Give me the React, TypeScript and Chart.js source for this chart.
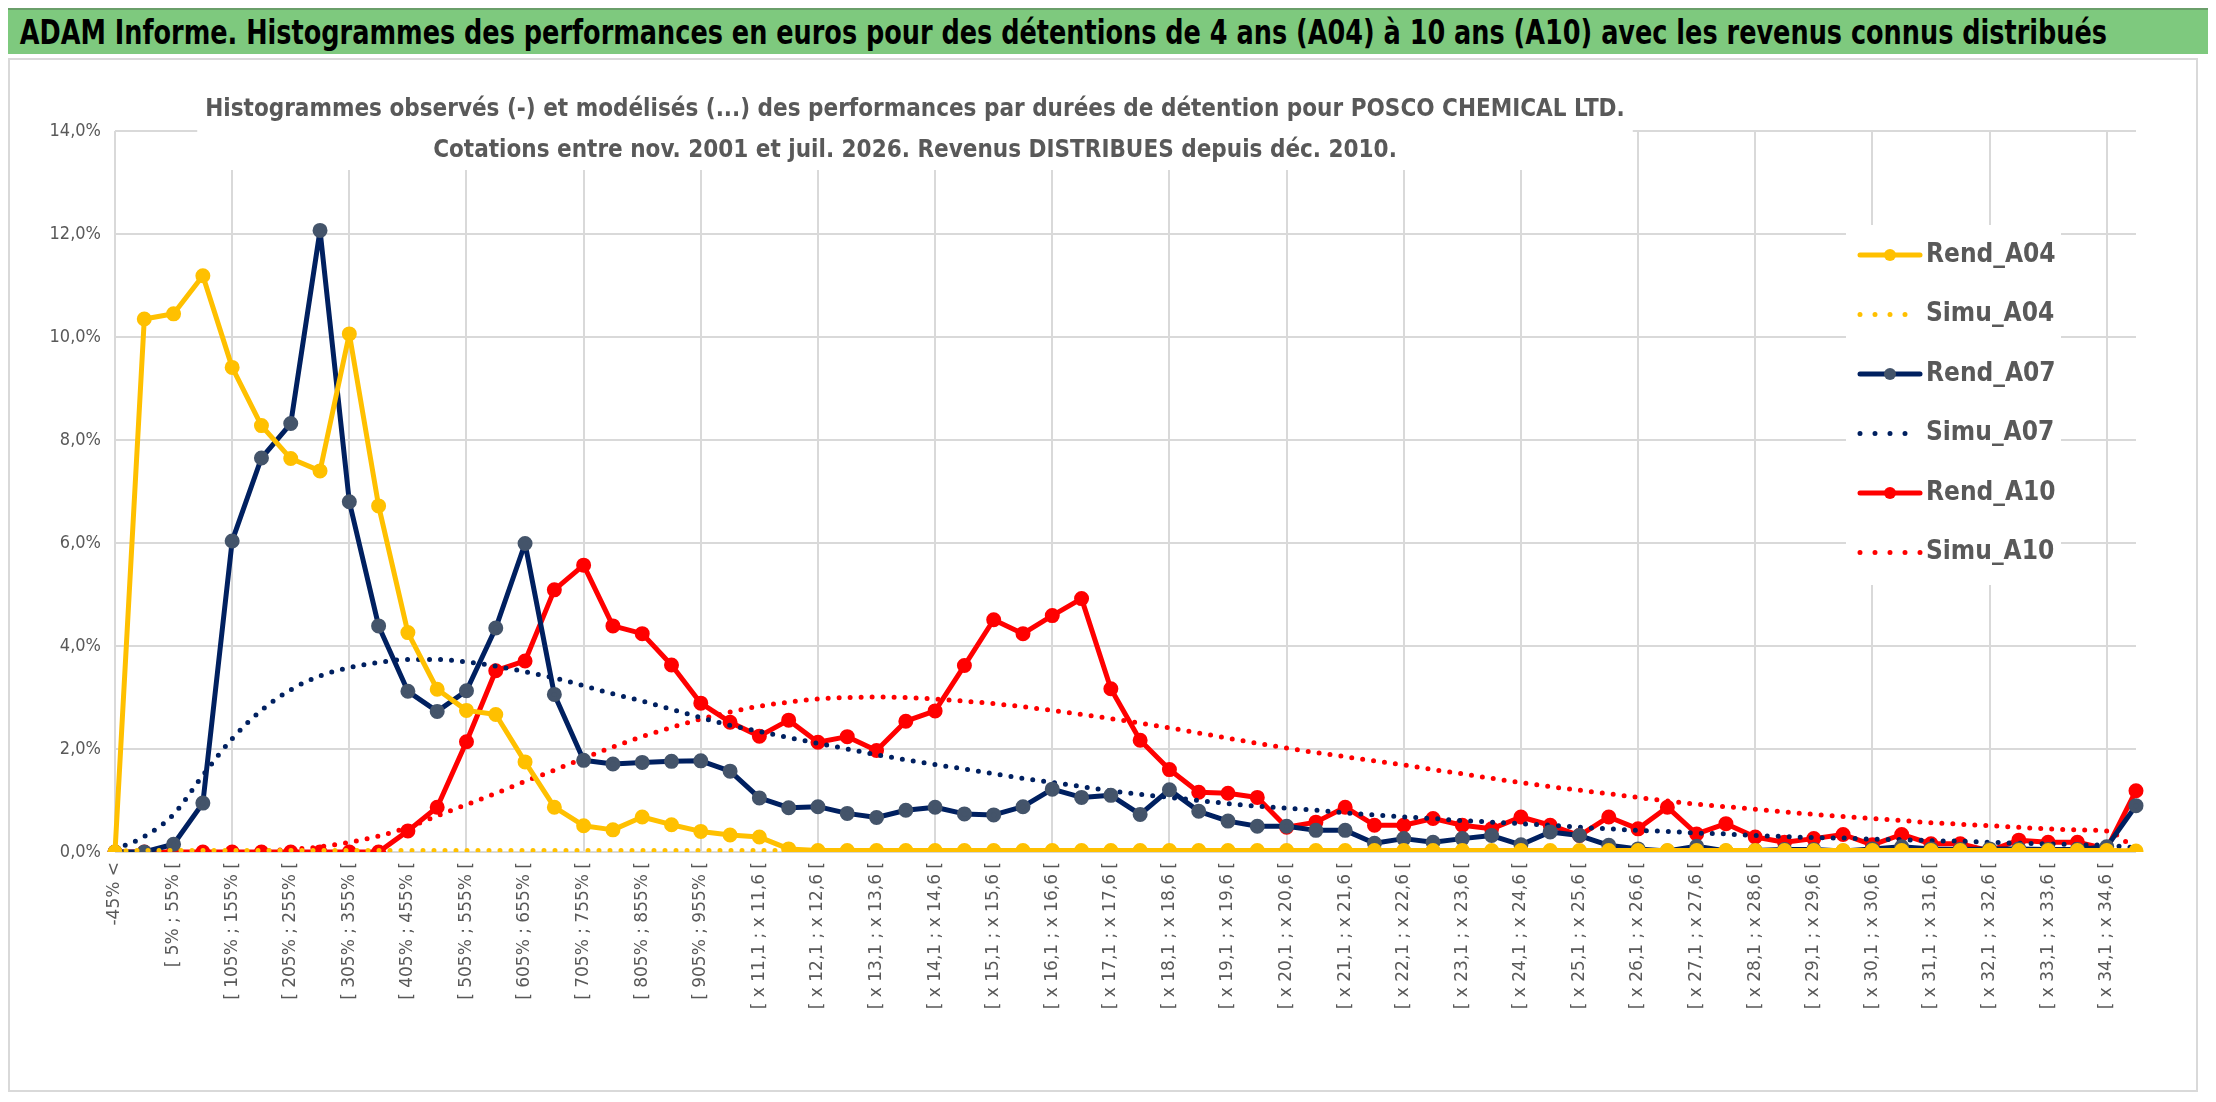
import React, { useEffect, useRef } from "react";
import { Chart, registerables } from "chart.js";
Chart.register(...registerables);

const fmt = (v: number) => v.toFixed(1).replace(".", ",");
const categories: string[] = (() => {
  const out: string[] = ["-45% <", "[ -45% ; 5% ["];
  for (let a = 5; a <= 905; a += 50) out.push(`[ ${a}% ; ${a + 50}% [`);
  out.push("[ 955% ; x 11,1 [");
  for (let k = 0; k <= 46; k++) {
    const m = 11.1 + 0.5 * k;
    out.push(`[ x ${fmt(m)} ; x ${fmt(m + 0.5)} [`);
  }
  out.push("> x 34,6");
  return out;
})();

const rendA04 = [0, 10.35, 10.45, 11.19, 9.41, 8.28, 7.64, 7.4, 10.06, 6.72, 4.26, 3.16, 2.75, 2.67, 1.75, 0.87, 0.51, 0.43, 0.68, 0.53, 0.4, 0.33, 0.29, 0.06,
  0.03, 0.03, 0.03, 0.03, 0.03, 0.03, 0.03, 0.03, 0.03, 0.03, 0.03, 0.03, 0.03, 0.03, 0.03, 0.03, 0.03, 0.03, 0.03, 0.03, 0.03, 0.03, 0.03, 0.03, 0.03, 0.03,
  0.03, 0.03, 0.03, 0.03, 0.03, 0.03, 0.03, 0.03, 0.03, 0.03, 0.03, 0.03, 0.03, 0.03, 0.03, 0.03, 0.03, 0.03, 0.03, 0.02];
const simuA04 = [0.02, 0.03, 0.03, 0.03, 0.03, 0.03, 0.03, 0.03, 0.03, 0.03, 0.03, 0.03, 0.03, 0.03, 0.03, 0.03, 0.03, 0.03, 0.03, 0.03, 0.03, 0.03, 0.03, 0.03,
  0.03, 0.03, 0.03, 0.03, 0.03, 0.03, 0.03, 0.03, 0.03, 0.03, 0.03, 0.03, 0.03, 0.03, 0.03, 0.03, 0.03, 0.03, 0.03, 0.03, 0.03, 0.03, 0.03, 0.03, 0.03, 0.03,
  0.03, 0.03, 0.03, 0.03, 0.03, 0.03, 0.03, 0.03, 0.03, 0.03, 0.03, 0.03, 0.03, 0.03, 0.03, 0.03, 0.03, 0.03, 0.03, 0.03];
const rendA07 = [0, 0, 0.15, 0.95, 6.04, 7.65, 8.32, 12.07, 6.8, 4.39, 3.12, 2.73, 3.13, 4.35, 5.99, 3.06, 1.78, 1.71, 1.74, 1.76, 1.77, 1.57, 1.05, 0.86,
  0.88, 0.75, 0.67, 0.81, 0.87, 0.74, 0.72, 0.88, 1.22, 1.06, 1.1, 0.73, 1.21, 0.79, 0.6, 0.5, 0.5, 0.42, 0.42, 0.17, 0.26, 0.19, 0.26, 0.32, 0.14, 0.39,
  0.32, 0.13, 0.06, 0.02, 0.11, 0.02, 0.03, 0.05, 0.05, 0.02, 0.06, 0.1, 0.06, 0.05, 0.06, 0.06, 0.05, 0.05, 0.1, 0.9];
const simuA07 = [0.05, 0.3, 0.73, 1.49, 2.2, 2.75, 3.15, 3.42, 3.58, 3.68, 3.74, 3.74, 3.69, 3.61, 3.5, 3.38, 3.23, 3.07, 2.93, 2.77, 2.61, 2.46, 2.34, 2.22,
  2.11, 2.0, 1.89, 1.79, 1.7, 1.61, 1.52, 1.43, 1.35, 1.27, 1.19, 1.12, 1.06, 1.0, 0.94, 0.89, 0.85, 0.81, 0.76, 0.72, 0.68, 0.65, 0.61, 0.58, 0.55, 0.52,
  0.48, 0.45, 0.42, 0.4, 0.37, 0.35, 0.32, 0.3, 0.28, 0.27, 0.25, 0.24, 0.22, 0.21, 0.19, 0.17, 0.16, 0.14, 0.13, 0.08];
const rendA10 = [0, 0, 0, 0, 0, 0, 0, 0, 0, 0, 0.41, 0.87, 2.14, 3.52, 3.71, 5.09, 5.57, 4.39, 4.24, 3.63, 2.89, 2.52, 2.25, 2.56,
  2.13, 2.24, 1.97, 2.54, 2.74, 3.62, 4.51, 4.24, 4.59, 4.92, 3.17, 2.17, 1.6, 1.16, 1.14, 1.06, 0.48, 0.58, 0.87, 0.52, 0.52, 0.65, 0.52, 0.45, 0.68, 0.52,
  0.32, 0.68, 0.45, 0.87, 0.35, 0.55, 0.29, 0.19, 0.26, 0.34, 0.14, 0.34, 0.16, 0.16, 0.02, 0.23, 0.19, 0.19, 0.06, 1.19];
const simuA10 = [0, 0, 0, 0, 0, 0.02, 0.05, 0.1, 0.19, 0.31, 0.48, 0.7, 0.92, 1.14, 1.37, 1.59, 1.82, 2.04, 2.24, 2.42, 2.58, 2.72, 2.83, 2.91,
  2.97, 3.0, 3.01, 3.0, 2.97, 2.93, 2.88, 2.82, 2.75, 2.67, 2.59, 2.5, 2.41, 2.31, 2.21, 2.11, 2.02, 1.93, 1.85, 1.77, 1.69, 1.6, 1.52, 1.43, 1.35, 1.27,
  1.2, 1.13, 1.06, 0.99, 0.93, 0.88, 0.83, 0.78, 0.73, 0.69, 0.65, 0.61, 0.57, 0.54, 0.51, 0.48, 0.45, 0.43, 0.41, 0.05];

const YELLOW = "#FFC000", NAVY = "#002060", NAVYM = "#44546A", RED = "#FF0000";
const NARROW = '"Liberation Sans Narrow", "DejaVu Sans Condensed", "Roboto Condensed", sans-serif';
const GRAY = "#595959";

export default function App() {
  const ref = useRef<HTMLCanvasElement>(null);
  useEffect(() => {
    const rend = (label: string, data: number[], c: string, m: string) => ({
      label, data, borderColor: c, backgroundColor: m, pointBackgroundColor: m, pointBorderColor: m,
      borderWidth: 5, pointRadius: 5, pointHoverRadius: 5, tension: 0, borderJoinStyle: "round" as const,
    });
    const simu = (label: string, data: number[], c: string) => ({
      label, data, borderColor: c, backgroundColor: c, borderWidth: 5, pointRadius: 0,
      borderDash: [0, 11], borderCapStyle: "round" as const, cubicInterpolationMode: "monotone" as const,
    });
    const datasets: any[] = [
      rend("Rend_A04", rendA04, YELLOW, YELLOW),
      simu("Simu_A04", simuA04, YELLOW),
      rend("Rend_A07", rendA07, NAVY, NAVYM),
      simu("Simu_A07", simuA07, NAVY),
      rend("Rend_A10", rendA10, RED, RED),
      simu("Simu_A10", simuA10, RED),
    ];
    const overlay = {
      id: "overlay",
      afterDraw(chart: any) {
        const ctx = chart.ctx as CanvasRenderingContext2D;
        ctx.save();
        ctx.font = `bold 24px ${NARROW}`;
        const l1 = "Histogrammes observés (-) et modélisés (...) des performances par durées de détention pour POSCO CHEMICAL LTD.";
        const l2 = "Cotations entre nov. 2001 et juil. 2026. Revenus DISTRIBUES depuis déc. 2010.";
        const w = ctx.measureText(l1).width;
        const cx = 905;
        ctx.fillStyle = "#fff";
        ctx.fillRect(cx - w / 2 - 8, 30, w + 16, 80);
        ctx.fillStyle = GRAY;
        ctx.textAlign = "center";
        ctx.textBaseline = "middle";
        ctx.fillText(l1, cx, 50);
        ctx.fillText(l2, cx, 91);
        const lx = 1836, ly = 165;
        ctx.fillStyle = "#fff";
        ctx.fillRect(lx, ly, 215, 360);
        ctx.font = `bold 26px ${NARROW}`;
        ctx.textAlign = "left";
        datasets.forEach((d, i) => {
          const y = 195 + i * 59.5;
          ctx.strokeStyle = d.borderColor;
          ctx.lineWidth = 5;
          ctx.lineCap = "round";
          if (d.pointRadius) {
            ctx.setLineDash([]);
            ctx.beginPath(); ctx.moveTo(lx + 14, y); ctx.lineTo(lx + 74, y); ctx.stroke();
            ctx.fillStyle = d.pointBackgroundColor;
            ctx.beginPath(); ctx.arc(lx + 44, y, 6, 0, Math.PI * 2); ctx.fill();
          } else {
            ctx.setLineDash([0, 15]);
            ctx.beginPath(); ctx.moveTo(lx + 14, y); ctx.lineTo(lx + (i === 5 ? 76 : 62), y); ctx.stroke();
          }
          ctx.setLineDash([]);
          ctx.fillStyle = GRAY;
          ctx.fillText(d.label, lx + 80, y);
        });
        ctx.restore();
      },
    };
    const chart = new Chart(ref.current!, {
      type: "line",
      data: { labels: categories, datasets },
      plugins: [overlay],
      options: {
        animation: false,
        responsive: false,
        layout: { padding: { top: 71, right: 60, bottom: 8, left: 0 } },
        plugins: { legend: { display: false }, title: { display: false }, tooltip: { enabled: false } },
        scales: {
          x: {
            offset: false,
            grid: { color: (c: any) => (c.index % 4 === 0 ? "#d9d9d9" : "rgba(0,0,0,0)"), lineWidth: 2, drawTicks: false },
            border: { display: false },
            ticks: {
              autoSkip: false, maxRotation: 90, minRotation: 90, padding: 10,
              color: GRAY, font: { size: 17, family: "DejaVu Sans" },
              callback: (_v: any, i: number) => (i % 2 === 0 ? categories[i] : ""),
            },
            afterFit: (s: any) => { s.height = 230; },
          },
          y: {
            min: 0, max: 14,
            grid: { color: "#d9d9d9", lineWidth: 2, drawTicks: false },
            border: { display: false },
            ticks: { stepSize: 2, color: GRAY, padding: 14, font: { size: 18, family: NARROW }, callback: (v: any) => fmt(Number(v)) + "%" },
            afterFit: (s: any) => { s.width = 105; },
          },
        },
      },
    });
    return () => chart.destroy();
  }, []);
  return (
    <div style={{ position: "relative", width: 2200, height: 1086, background: "#fff", overflow: "hidden" }}>
      <div style={{ position: "absolute", left: 0, top: 0, width: 2200, height: 46, background: "#7ec97e", borderTop: "2px solid #6a9f6a",
        boxSizing: "border-box", overflow: "hidden" }}>
        <div style={{ fontFamily: NARROW, fontWeight: "bold", fontSize: 34, lineHeight: "44px", color: "#000", whiteSpace: "nowrap",
          transform: "scaleX(0.835)", transformOrigin: "left center", paddingLeft: 14 }}>
          ADAM Informe. Histogrammes des performances en euros pour des détentions de 4 ans (A04) à 10 ans (A10) avec les revenus connus distribués
        </div>
      </div>
      <div style={{ position: "absolute", left: 0, top: 50, width: 2190, height: 1034, border: "2px solid #d9d9d9", boxSizing: "border-box" }}>
        <canvas ref={ref} width={2186} height={1030} style={{ display: "block" }} />
      </div>
    </div>
  );
}
